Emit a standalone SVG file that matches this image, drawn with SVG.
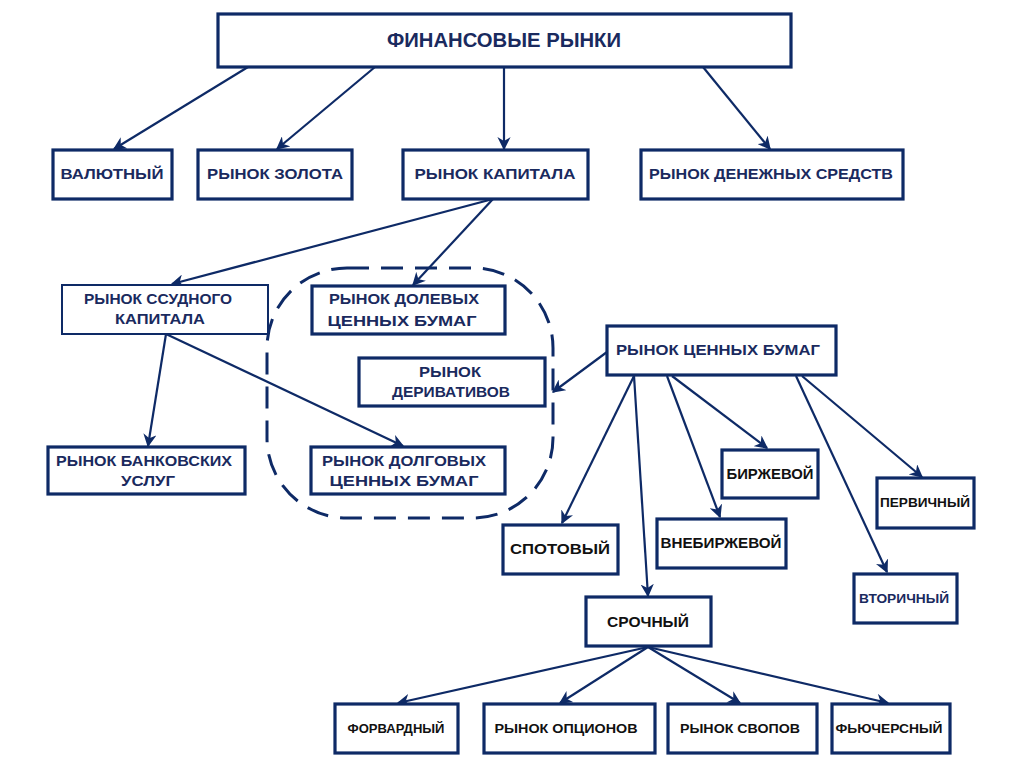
<svg xmlns="http://www.w3.org/2000/svg" width="1024" height="768" viewBox="0 0 1024 768">
<style>
.box{fill:#fff;stroke:#0e2a66;stroke-width:3.2}
.thin{stroke-width:2}
.t{font-family:"Liberation Sans","DejaVu Sans",sans-serif;font-weight:bold;font-size:14px;fill:#1a2a5e;text-anchor:middle}
.k{fill:#111}
.c{stroke:#0e2a66;stroke-width:2.2;fill:none;marker-end:url(#ah)}
</style>
<defs>
<marker id="ah" viewBox="0 0 10 10" refX="9" refY="5" markerWidth="6" markerHeight="6" orient="auto" markerUnits="strokeWidth">
<path d="M0,0 L10,5 L0,10 L3,5 Z" fill="#0e2a66"/>
</marker>
</defs>
<rect width="1024" height="768" fill="#fff"/>
<g id="connectors">
<line class="c" x1="248" y1="67" x2="114" y2="149"/>
<line class="c" x1="375" y1="67" x2="277" y2="149"/>
<line class="c" x1="504" y1="67" x2="504" y2="149"/>
<line class="c" x1="703" y1="67" x2="770" y2="149"/>
<line class="c" x1="493" y1="199" x2="172" y2="284"/>
<line class="c" x1="493" y1="199" x2="413" y2="285"/>
<line class="c" x1="166" y1="334" x2="148" y2="446"/>
<line class="c" x1="166" y1="334" x2="403" y2="446"/>
<line class="c" x1="607" y1="352" x2="553" y2="392"/>
<line class="c" x1="634" y1="376" x2="562" y2="523"/>
<line class="c" x1="634" y1="376" x2="648" y2="596"/>
<line class="c" x1="667" y1="376" x2="720" y2="517"/>
<line class="c" x1="672" y1="376" x2="767" y2="448"/>
<line class="c" x1="796" y1="376" x2="887" y2="572"/>
<line class="c" x1="802" y1="376" x2="922" y2="477"/>
<line class="c" x1="648" y1="647" x2="398" y2="703"/>
<line class="c" x1="648" y1="647" x2="560" y2="703"/>
<line class="c" x1="648" y1="647" x2="740" y2="703"/>
<line class="c" x1="648" y1="647" x2="888" y2="703"/>
</g>
<g id="group-dashed">
<rect x="267" y="268" width="286" height="250" rx="80" ry="80" fill="none" stroke="#0e2a66" stroke-width="3" stroke-dasharray="22,12"/>
</g>
<g id="n-fin"><rect class="box" x="218" y="14" width="573" height="53"/><text class="t" x="504" y="47" style="font-size:20px" textLength="234" lengthAdjust="spacingAndGlyphs">ФИНАНСОВЫЕ РЫНКИ</text></g>
<g id="n-val"><rect class="box" x="53" y="150" width="119" height="49"/><text class="t" x="112" y="179" textLength="103" lengthAdjust="spacingAndGlyphs">ВАЛЮТНЫЙ</text></g>
<g id="n-gold"><rect class="box" x="198" y="150" width="154" height="49"/><text class="t" x="275" y="179" textLength="136" lengthAdjust="spacingAndGlyphs">РЫНОК ЗОЛОТА</text></g>
<g id="n-cap"><rect class="box" x="403" y="150" width="185" height="49"/><text class="t" x="495" y="179" textLength="161" lengthAdjust="spacingAndGlyphs">РЫНОК КАПИТАЛА</text></g>
<g id="n-money"><rect class="box" x="641" y="150" width="262" height="49"/><text class="t" x="771" y="179" textLength="244" lengthAdjust="spacingAndGlyphs">РЫНОК ДЕНЕЖНЫХ СРЕДСТВ</text></g>
<g id="n-loan"><rect class="box thin" x="62" y="285" width="206" height="49"/><text class="t" x="158" y="304" textLength="148" lengthAdjust="spacingAndGlyphs">РЫНОК ССУДНОГО</text><text class="t" x="160" y="324" textLength="90" lengthAdjust="spacingAndGlyphs">КАПИТАЛА</text></g>
<g id="n-equity"><rect class="box" x="312" y="286" width="193" height="48"/><text class="t" x="404" y="304" textLength="150" lengthAdjust="spacingAndGlyphs">РЫНОК ДОЛЕВЫХ</text><text class="t" x="402" y="326" textLength="149" lengthAdjust="spacingAndGlyphs">ЦЕННЫХ БУМАГ</text></g>
<g id="n-deriv"><rect class="box" x="359" y="358" width="186" height="48"/><text class="t" x="450" y="377" textLength="62" lengthAdjust="spacingAndGlyphs">РЫНОК</text><text class="t" x="451" y="397" textLength="118" lengthAdjust="spacingAndGlyphs">ДЕРИВАТИВОВ</text></g>
<g id="n-bank"><rect class="box" x="48" y="447" width="197" height="47"/><text class="t" x="144" y="466" textLength="176" lengthAdjust="spacingAndGlyphs">РЫНОК БАНКОВСКИХ</text><text class="t" x="148" y="486" textLength="54" lengthAdjust="spacingAndGlyphs">УСЛУГ</text></g>
<g id="n-debt"><rect class="box" x="311" y="447" width="194" height="47"/><text class="t" x="404" y="466" textLength="164" lengthAdjust="spacingAndGlyphs">РЫНОК ДОЛГОВЫХ</text><text class="t" x="404" y="486" textLength="149" lengthAdjust="spacingAndGlyphs">ЦЕННЫХ БУМАГ</text></g>
<g id="n-sec"><rect class="box" x="607" y="326" width="229" height="49"/><text class="t" x="718" y="355" textLength="204" lengthAdjust="spacingAndGlyphs">РЫНОК ЦЕННЫХ БУМАГ</text></g>
<g id="n-exch"><rect class="box" x="722" y="450" width="96" height="48"/><text class="t k" x="770" y="479" textLength="87" lengthAdjust="spacingAndGlyphs">БИРЖЕВОЙ</text></g>
<g id="n-otc"><rect class="box" x="657" y="519" width="129" height="49"/><text class="t k" x="721" y="548" textLength="121" lengthAdjust="spacingAndGlyphs">ВНЕБИРЖЕВОЙ</text></g>
<g id="n-spot"><rect class="box" x="503" y="525" width="115" height="49"/><text class="t k" x="560" y="554" textLength="100" lengthAdjust="spacingAndGlyphs">СПОТОВЫЙ</text></g>
<g id="n-prim"><rect class="box" x="877" y="478" width="97" height="50"/><text class="t k" x="925" y="507" style="font-size:13px" textLength="90" lengthAdjust="spacingAndGlyphs">ПЕРВИЧНЫЙ</text></g>
<g id="n-sec2"><rect class="box" x="854" y="574" width="103" height="49"/><text class="t" x="904" y="603" style="font-size:13px" textLength="90" lengthAdjust="spacingAndGlyphs">ВТОРИЧНЫЙ</text></g>
<g id="n-term"><rect class="box" x="586" y="597" width="125" height="49"/><text class="t k" x="648" y="627" textLength="82" lengthAdjust="spacingAndGlyphs">СРОЧНЫЙ</text></g>
<g id="n-fwd"><rect class="box" x="335" y="704" width="123" height="49"/><text class="t k" x="396" y="733" style="font-size:13px" textLength="97" lengthAdjust="spacingAndGlyphs">ФОРВАРДНЫЙ</text></g>
<g id="n-opt"><rect class="box" x="484" y="704" width="171" height="49"/><text class="t k" x="566" y="733" style="font-size:13px" textLength="143" lengthAdjust="spacingAndGlyphs">РЫНОК ОПЦИОНОВ</text></g>
<g id="n-swap"><rect class="box" x="668" y="704" width="149" height="49"/><text class="t k" x="740" y="733" style="font-size:13px" textLength="120" lengthAdjust="spacingAndGlyphs">РЫНОК СВОПОВ</text></g>
<g id="n-fut"><rect class="box" x="832" y="704" width="118" height="49"/><text class="t k" x="889" y="733" style="font-size:13px" textLength="107" lengthAdjust="spacingAndGlyphs">ФЬЮЧЕРСНЫЙ</text></g>
</svg>
